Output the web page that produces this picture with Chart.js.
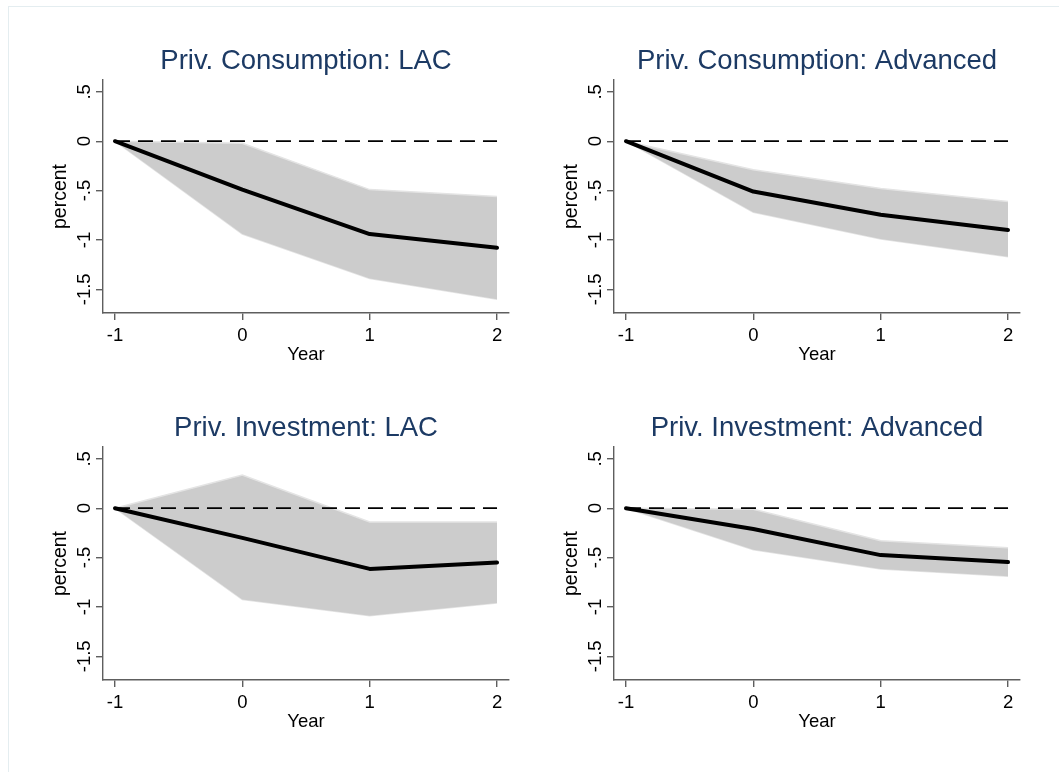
<!DOCTYPE html>
<html>
<head>
<meta charset="utf-8">
<script src="https://cdn.jsdelivr.net/npm/chart.js@4/dist/chart.umd.min.js"></script>
<style>
  html, body { margin: 0; padding: 0; background: #ffffff; }
  #page { position: relative; width: 1059px; height: 772px; overflow: hidden; background: #ffffff; }
  #frame { position: absolute; left: 8px; top: 6px; width: 1100px; height: 800px;
           border-top: 1px solid #e4edf0; border-left: 1px solid #e4edf0; }
  .panel { position: absolute; width: 521px; height: 380px; }
  .panel canvas { display: block; }
</style>
</head>
<body>
<div id="page">
  <div id="frame"></div>
  <div class="panel" style="left:3px; top:0px;"><canvas id="c1" width="521" height="380"></canvas></div>
  <div class="panel" style="left:514px; top:0px;"><canvas id="c2" width="521" height="380"></canvas></div>
  <div class="panel" style="left:3px; top:367px;"><canvas id="c3" width="521" height="380"></canvas></div>
  <div class="panel" style="left:514px; top:367px;"><canvas id="c4" width="521" height="380"></canvas></div>
</div>
<script>
// Event years relative to the shock
const years = [-1, 0, 1, 2];

// Private consumption, LAC: point estimate and confidence band
const consLacMean  = [0, -0.49, -0.94, -1.08];
const consLacUpper = [0, -0.02, -0.49, -0.56];
const consLacLower = [0, -0.94, -1.39, -1.60];

// Private consumption, advanced economies
const consAdvMean  = [0, -0.51, -0.745, -0.90];
const consAdvUpper = [0, -0.29, -0.48, -0.61];
const consAdvLower = [0, -0.72, -0.99, -1.17];

// Private investment, LAC
const invLacMean  = [0, -0.30, -0.615, -0.55];
const invLacUpper = [0, 0.335, -0.14, -0.14];
const invLacLower = [0, -0.925, -1.09, -0.96];

// Private investment, advanced economies
const invAdvMean  = [0, -0.21, -0.475, -0.545];
const invAdvUpper = [0, -0.01, -0.33, -0.40];
const invAdvLower = [0, -0.42, -0.615, -0.69];

// Reference line at zero
const zeroLine = [0, 0, 0, 0];

// Axis ticks and their printed labels
const xTicks = [-1, 0, 1, 2];
const xTickLabels = ['-1', '0', '1', '2'];
const yTicks = [-1.5, -1, -0.5, 0, 0.5];
const yTickLabels = ['-1.5', '-1', '-.5', '0', '.5'];

const panelTitles = [
  'Priv. Consumption: LAC',
  'Priv. Consumption: Advanced',
  'Priv. Investment: LAC',
  'Priv. Investment: Advanced'
];

const FONT = '"Liberation Sans", Arial, Helvetica, sans-serif';
const AXIS_COLOR = '#5e5e5e';
const TEXT_COLOR = '#000000';
const TITLE_COLOR = '#1c3a64';

function toPoints(values) {
  return years.map((x, i) => ({ x: x, y: values[i] }));
}

function makePanel(canvasId, title, mean, upper, lower) {
  const ctx = document.getElementById(canvasId);
  return new Chart(ctx, {
    type: 'line',
    data: {
      datasets: [
        {
          label: 'upper',
          data: toPoints(upper),
          borderColor: '#e4e4e4',
          borderWidth: 1.5,
          backgroundColor: '#cccccc',
          pointRadius: 0,
          fill: '+1',
          order: 3
        },
        {
          label: 'lower',
          data: toPoints(lower),
          borderColor: '#e4e4e4',
          borderWidth: 1.5,
          backgroundColor: '#cccccc',
          pointRadius: 0,
          fill: false,
          order: 3
        },
        {
          label: 'zero',
          data: toPoints(zeroLine),
          borderColor: '#000000',
          borderWidth: 1.8,
          borderDash: [15, 8],
          pointRadius: 0,
          fill: false,
          order: 2
        },
        {
          label: 'estimate',
          data: toPoints(mean),
          borderColor: '#000000',
          borderWidth: 4,
          borderCapStyle: 'round',
          borderJoinStyle: 'round',
          pointRadius: 0,
          fill: false,
          order: 1
        }
      ]
    },
    options: {
      responsive: false,
      animation: false,
      events: [],
      layout: { padding: { top: 0, right: 15, bottom: 7, left: 0 } },
      plugins: {
        legend: { display: false },
        tooltip: { enabled: false },
        title: {
          display: true,
          text: title,
          fullSize: false,
          color: TITLE_COLOR,
          font: { family: FONT, size: 27.5, weight: 'normal', lineHeight: 1.2 },
          padding: { top: 44.5, bottom: 2.5 }
        }
      },
      scales: {
        x: {
          type: 'linear',
          min: -1.094,
          max: 2.094,
          afterBuildTicks: (scale) => { scale.ticks = xTicks.map(v => ({ value: v })); },
          afterFit: (scale) => { scale.height = 60; },
          border: { display: true, color: AXIS_COLOR, width: 1.4 },
          grid: { drawOnChartArea: false, drawTicks: true, tickLength: 7, color: AXIS_COLOR, lineWidth: 1.4 },
          ticks: {
            color: TEXT_COLOR,
            font: { family: FONT, size: 18.5 },
            padding: 5,
            maxRotation: 0,
            minRotation: 0,
            callback: (value) => xTickLabels[xTicks.indexOf(value)]
          },
          title: {
            display: true,
            text: 'Year',
            color: TEXT_COLOR,
            font: { family: FONT, size: 18.5 },
            padding: { top: 0, bottom: 7 }
          }
        },
        y: {
          type: 'linear',
          min: -1.74,
          max: 0.62,
          afterBuildTicks: (scale) => { scale.ticks = yTicks.map(v => ({ value: v })); },
          afterFit: (scale) => { scale.width = 100; },
          border: { display: true, color: AXIS_COLOR, width: 1.4 },
          grid: { drawOnChartArea: false, drawTicks: true, tickLength: 7, color: AXIS_COLOR, lineWidth: 1.4 },
          ticks: {
            color: TEXT_COLOR,
            font: { family: FONT, size: 18.5 },
            minRotation: 90,
            maxRotation: 90,
            crossAlign: 'center',
            padding: -5,
            callback: (value) => yTickLabels[yTicks.indexOf(value)]
          },
          title: {
            display: true,
            text: 'percent',
            color: TEXT_COLOR,
            font: { family: FONT, size: 19.5 },
            padding: { top: 46, bottom: 0 }
          }
        }
      }
    }
  });
}

makePanel('c1', panelTitles[0], consLacMean, consLacUpper, consLacLower);
makePanel('c2', panelTitles[1], consAdvMean, consAdvUpper, consAdvLower);
makePanel('c3', panelTitles[2], invLacMean, invLacUpper, invLacLower);
makePanel('c4', panelTitles[3], invAdvMean, invAdvUpper, invAdvLower);
</script>
</body>
</html>
